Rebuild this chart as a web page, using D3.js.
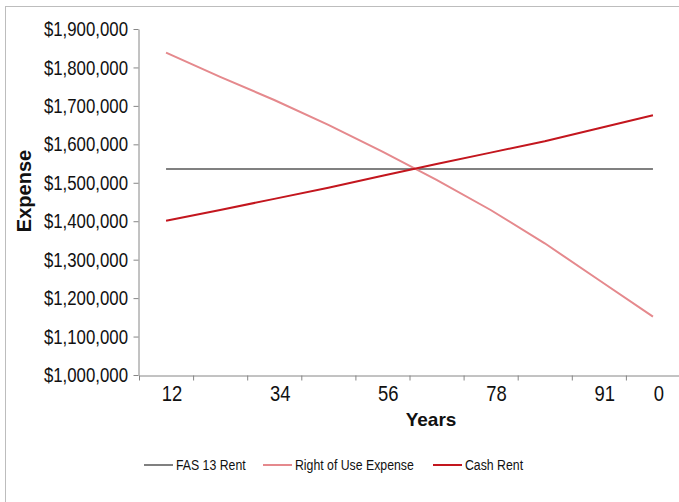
<!DOCTYPE html>
<html><head><meta charset="utf-8">
<script src="https://cdn.jsdelivr.net/npm/d3@7"></script>
<style>
body{margin:0;background:#fff;}
svg{display:block;}
</style>
</head><body>
<svg id="chart" width="679" height="502"></svg>
<script>
// ---- data ----
const categories = [1, 2, 3, 4, 5, 6, 7, 8, 9, 10];
const fas13Rent = [1536000, 1536000, 1536000, 1536000, 1536000, 1536000, 1536000, 1536000, 1536000, 1536000];
const rightOfUseExpense = [1838500, 1775500, 1715400, 1650400, 1580900, 1507300, 1429200, 1342600, 1247100, 1151700];
const cashRent = [1401400, 1429200, 1458100, 1487300, 1518500, 1548900, 1578400, 1607900, 1641700, 1675500];
const yTicks = [1000000, 1100000, 1200000, 1300000, 1400000, 1500000, 1600000, 1700000, 1800000, 1900000];
const xTickLabels = ["12", "34", "56", "78", "91", "0"];
const xTickLabelPos = [0.6, 2.6, 4.6, 6.6, 8.6, 9.6];
const seriesNames = ["FAS 13 Rent", "Right of Use Expense", "Cash Rent"];
const seriesColors = ["#808080", "#e5898d", "#c3161e"];

const series = [fas13Rent, rightOfUseExpense, cashRent].map((v, i) => ({name: seriesNames[i], color: seriesColors[i], values: v}));

const FONT = "'Liberation Sans', Arial, sans-serif";
const NARROW = 0.82; // emulate Arial Narrow by horizontal compression

const svg = d3.select("#chart");

// outer chart border
svg.append("rect").attr("x", 5.5).attr("y", 6.5).attr("width", 720).attr("height", 540)
  .attr("fill", "#fff").attr("stroke", "#bdbdbd").attr("stroke-width", 1);

const x = d3.scaleLinear().domain([0, categories.length]).range([139, 680]);
const y = d3.scaleLinear().domain([1000000, 1900000]).range([375, 29]);

const axisColor = "#868686";

// y axis
const yAxis = svg.append("g").attr("transform", "translate(138.5,0)")
  .call(d3.axisLeft(y).tickValues(yTicks).tickSize(5).tickSizeOuter(0).tickPadding(5)
    .tickFormat(d => "$" + d3.format(",")(d)));
yAxis.select(".domain").attr("stroke", axisColor);
yAxis.selectAll(".tick line").attr("stroke", axisColor);
yAxis.selectAll(".tick text")
  .attr("font-family", FONT).attr("font-size", 20.5).attr("fill", "#111")
  .attr("x", -10.5 / NARROW).attr("transform", `scale(${NARROW},1)`);

// x axis ticks
const xAxis = svg.append("g").attr("transform", "translate(0,375.5)")
  .call(d3.axisBottom(x).tickValues(d3.range(0, categories.length + 1)).tickSize(5).tickSizeOuter(0).tickFormat(""));
xAxis.select(".domain").attr("stroke", axisColor);
xAxis.selectAll(".tick line").attr("stroke", axisColor);

// x axis labels
const xLab = svg.append("g").attr("transform", "translate(0,375.5)")
  .call(d3.axisBottom(x).tickValues(xTickLabelPos).tickSize(0).tickPadding(10)
    .tickFormat((d, i) => xTickLabels[i]));
xLab.select(".domain").remove();
xLab.selectAll(".tick text")
  .attr("font-family", FONT).attr("font-size", 22.5).attr("fill", "#111")
  .attr("transform", `scale(${NARROW},1)`);

// lines
const line = d3.line().x((d, i) => x(i + 0.5)).y(d => y(d));
svg.append("g").selectAll("path").data(series).join("path")
  .attr("d", d => line(d.values))
  .attr("fill", "none")
  .attr("stroke", d => d.color)
  .attr("stroke-width", 2);

// axis titles
svg.append("text").attr("x", 431).attr("y", 426).attr("text-anchor", "middle")
  .attr("font-family", FONT).attr("font-weight", "bold")
  .attr("font-size", 19).attr("fill", "#111").text("Years");
svg.append("text").attr("transform", "translate(31,191) rotate(-90)").attr("text-anchor", "middle")
  .attr("font-family", FONT).attr("font-weight", "bold")
  .attr("font-size", 20).attr("fill", "#111").text("Expense");

// legend
const legendX = [144, 263, 433];
const lg = svg.append("g").selectAll("g").data(series).join("g")
  .attr("transform", (d, i) => `translate(${legendX[i]},465)`);
lg.append("line").attr("x1", 0).attr("x2", 29).attr("y1", 0).attr("y2", 0)
  .attr("stroke", d => d.color).attr("stroke-width", 2);
lg.append("text").attr("x", 32 / NARROW).attr("y", 0).attr("dy", "0.35em")
  .attr("transform", `scale(${NARROW},1)`)
  .attr("font-family", FONT).attr("font-size", 15).attr("fill", "#111").text(d => d.name);
</script>
</body></html>
